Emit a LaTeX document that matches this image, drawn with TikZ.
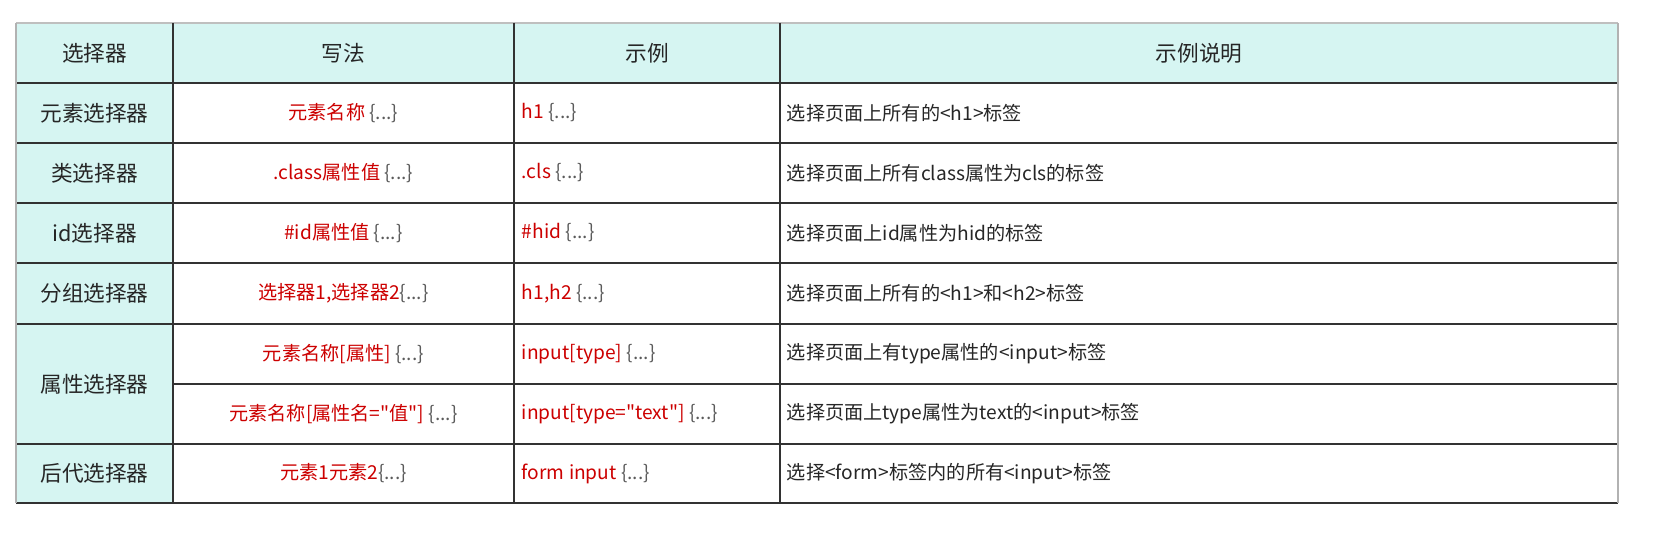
\documentclass[tikz,border=0pt]{standalone}
\usepackage{fontspec}
\setmainfont{Noto Sans CJK SC}[Ligatures=TeXOff]
\definecolor{headfill}{RGB}{214,245,242}
\definecolor{codered}{RGB}{204,0,0}
\definecolor{bracegray}{RGB}{90,90,90}
\definecolor{rulegray}{RGB}{50,50,50}
\newcommand{\brc}{\textcolor{bracegray}{\{...\}}}
\begin{document}
\begin{tikzpicture}[x=0.6pt, y=-0.6pt,
    headtext/.style={font=\fontsize{13}{15}\selectfont, text=black!85},
    celltext/.style={font=\fontsize{11.5}{13}\selectfont, text=black!85},
    codetext/.style={font=\fontsize{11.5}{13}\selectfont, text=codered},
    leftcell/.style={celltext, anchor=west},
    gridline/.style={draw=rulegray, line width=0.8pt},
  ]
  \useasboundingbox (0,0) rectangle (1663,554);

  % Fills
  \fill[headfill] (16,23) rectangle (1618,83);
  \fill[headfill] (16,83) rectangle (173,503);

  % Grid
  \foreach \y in {83,143,203,263,324,444}
    \draw[gridline] (16,\y) -- (1618,\y);
  \draw[gridline] (173,384) -- (1618,384);
  \draw[draw=gray!50, line width=0.8pt] (16,23) -- (1618,23);
  \draw[gridline] (16,503) -- (1618,503);
  \foreach \x in {173,514,780}
    \draw[gridline] (\x,23) -- (\x,503);
  \draw[draw=gray!60, line width=0.8pt] (16,23) -- (16,503);
  \draw[draw=gray!60, line width=0.8pt] (1618,23) -- (1618,503);

  % Header
  \node[headtext] (hsel) at (94.5,53) {选择器};
  \node[headtext] (hsyn) at (343.5,53) {写法};
  \node[headtext] (hex) at (647,53) {示例};
  \node[headtext] (hdesc) at (1199,53) {示例说明};

  % Column 1
  \node[headtext] (selA) at (94.5,113) {元素选择器};
  \node[headtext] (selB) at (94.5,173) {类选择器};
  \node[headtext] (selC) at (94.5,233) {id选择器};
  \node[headtext] (selD) at (94.5,293.5) {分组选择器};
  \node[headtext] (selE) at (94.5,384) {属性选择器};
  \node[headtext] (selF) at (94.5,473.5) {后代选择器};

  % Column 2
  \node[codetext] (synA) at (343.5,113) {元素名称 \brc};
  \node[codetext] (synB) at (343.5,173) {.class属性值 \brc};
  \node[codetext] (synC) at (343.5,233) {\#id属性值 \brc};
  \node[codetext] (synD) at (343.5,293.5) {选择器1,选择器2\brc};
  \node[codetext] (synE) at (343.5,354) {元素名称[属性] \brc};
  \node[codetext] (synF) at (343.5,414) {元素名称[属性名="值"] \brc};
  \node[codetext] (synG) at (343.5,473.5) {元素1元素2\brc};

  % Column 3
  \node[codetext, anchor=west] (exA) at (516,113) {h1 \brc};
  \node[codetext, anchor=west] (exB) at (516,173) {.cls \brc};
  \node[codetext, anchor=west] (exC) at (516,233) {\#hid \brc};
  \node[codetext, anchor=west] (exD) at (516,293.5) {h1,h2 \brc};
  \node[codetext, anchor=west] (exE) at (516,354) {input[type] \brc};
  \node[codetext, anchor=west] (exF) at (516,414) {input[type="text"] \brc};
  \node[codetext, anchor=west] (exG) at (516,473.5) {form input \brc};

  % Column 4
  \node[leftcell] (dsA) at (781,113) {选择页面上所有的<h1>标签};
  \node[leftcell] (dsB) at (781,173) {选择页面上所有class属性为cls的标签};
  \node[leftcell] (dsC) at (781,233) {选择页面上id属性为hid的标签};
  \node[leftcell] (dsD) at (781,293.5) {选择页面上所有的<h1>和<h2>标签};
  \node[leftcell] (dsE) at (781,354) {选择页面上有type属性的<input>标签};
  \node[leftcell] (dsF) at (781,414) {选择页面上type属性为text的<input>标签};
  \node[leftcell] (dsG) at (781,473.5) {选择<form>标签内的所有<input>标签};
\end{tikzpicture}
\end{document}
